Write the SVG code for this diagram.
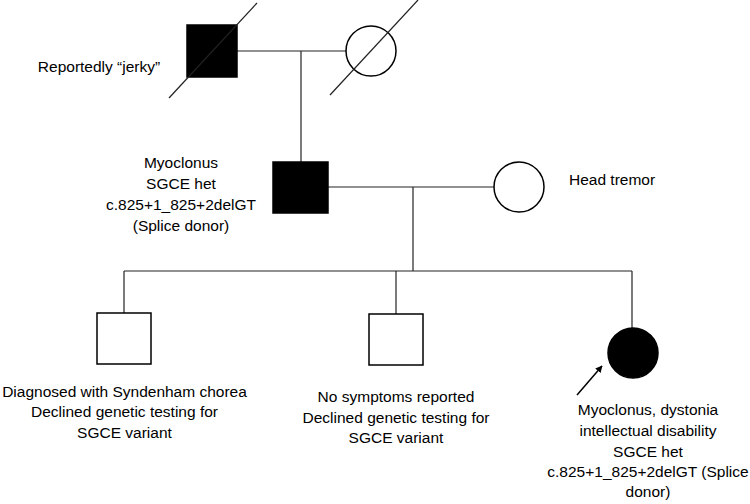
<svg xmlns="http://www.w3.org/2000/svg" width="750" height="504" viewBox="0 0 750 504">
<style>
.ln{stroke:#222;stroke-width:1.2;fill:none}
.sh{stroke:#000;stroke-width:1.5}
.aff{fill:#000}
.un{fill:#fff}
text{font-family:"Liberation Sans",Arial,sans-serif;font-size:15.5px;fill:#000}
.c{text-anchor:middle}
</style>
<defs>
<marker id="ah" viewBox="0 0 10 10" refX="9" refY="5" markerWidth="7" markerHeight="7" orient="auto" markerUnits="userSpaceOnUse">
<path d="M0,0 L10,5 L0,10 z" fill="#000"/>
</marker>
</defs>
<rect width="750" height="504" fill="#fff"/>
<g id="connectors">
<line class="ln" x1="237" y1="51" x2="346" y2="51"/>
<line class="ln" x1="301" y1="51" x2="301" y2="162"/>
<line class="ln" x1="328" y1="187" x2="494" y2="187"/>
<line class="ln" x1="413" y1="187" x2="413" y2="271"/>
<line class="ln" x1="124" y1="271" x2="632" y2="271"/>
<line class="ln" x1="124" y1="271" x2="124" y2="313"/>
<line class="ln" x1="396" y1="271" x2="396" y2="314"/>
<line class="ln" x1="632" y1="271" x2="632" y2="328"/>
<line x1="577" y1="395" x2="602" y2="366" stroke="#000" stroke-width="1.5" marker-end="url(#ah)"/>
</g>
<g id="grandfather">
<rect class="sh aff" x="187" y="25" width="50" height="52"/>
<line class="ln" x1="169" y1="98" x2="257" y2="3"/>
<text x="99" y="72" class="c">Reportedly “jerky”</text>
</g>
<g id="grandmother">
<circle class="sh un" cx="371" cy="51" r="25"/>
<line class="ln" x1="330" y1="95" x2="418" y2="0"/>
</g>
<g id="father">
<rect class="sh aff" x="273" y="162" width="55" height="51"/>
<text class="c" x="181" y="168">Myoclonus</text>
<text class="c" x="181" y="189">SGCE het</text>
<text class="c" x="181" y="210">c.825+1_825+2delGT</text>
<text class="c" x="181" y="231">(Splice donor)</text>
</g>
<g id="mother">
<circle class="sh un" cx="519" cy="187" r="25"/>
<text x="569" y="185">Head tremor</text>
</g>
<g id="child1">
<rect class="sh un" x="97" y="313" width="54" height="51"/>
<text class="c" x="124.5" y="397">Diagnosed with Syndenham chorea</text>
<text class="c" x="124.5" y="417">Declined genetic testing for</text>
<text class="c" x="124.5" y="438">SGCE variant</text>
</g>
<g id="child2">
<rect class="sh un" x="369" y="314" width="54" height="51"/>
<text class="c" x="396" y="402">No symptoms reported</text>
<text class="c" x="396" y="423">Declined genetic testing for</text>
<text class="c" x="396" y="443">SGCE variant</text>
</g>
<g id="proband">
<circle class="sh aff" cx="633" cy="353" r="25"/>
<text class="c" x="648" y="415">Myoclonus, dystonia</text>
<text class="c" x="648" y="436">intellectual disability</text>
<text class="c" x="648" y="457">SGCE het</text>
<text class="c" x="648" y="477">c.825+1_825+2delGT (Splice</text>
<text class="c" x="648" y="497">donor)</text>
</g>
</svg>
